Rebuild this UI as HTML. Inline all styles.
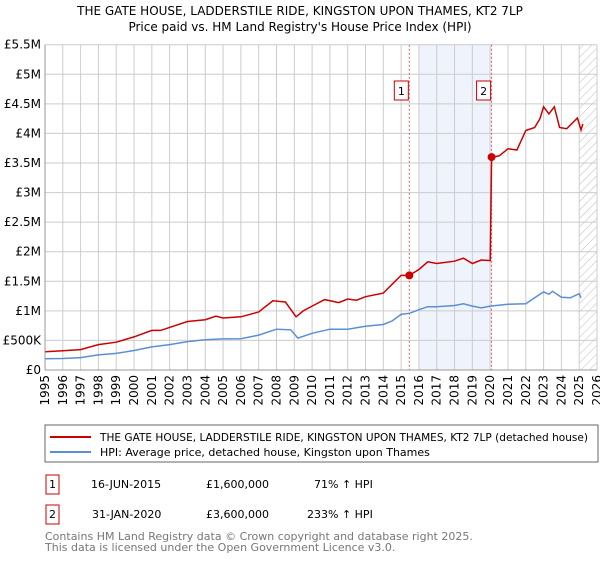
<!DOCTYPE html>
<html><head><meta charset="utf-8"><style>
body{margin:0;background:#fff;font-family:"DejaVu Sans","Liberation Sans",sans-serif;}
svg text{font-family:"DejaVu Sans","Liberation Sans",sans-serif;}
</style></head><body>
<svg id="c" width="600" height="560" xmlns="http://www.w3.org/2000/svg">
<defs><pattern id="hatch" width="6" height="6" patternUnits="userSpaceOnUse" patternTransform="rotate(45)"><line x1="0" y1="0" x2="0" y2="6" stroke="#bbb" stroke-width="1"/></pattern></defs>
<text x="300" y="15" text-anchor="middle" font-size="12">THE GATE HOUSE, LADDERSTILE RIDE, KINGSTON UPON THAMES, KT2 7LP</text>
<text x="300" y="31" text-anchor="middle" font-size="12">Price paid vs. HM Land Registry's House Price Index (HPI)</text>
<g id="grid"></g><g id="marks"></g><g id="axes"></g>
<rect x="45" y="425" width="553" height="37" fill="#fff" stroke="#666"/>
<line x1="50" y1="437" x2="91" y2="437" stroke="#cc0000" stroke-width="2"/>
<text x="100" y="441" font-size="11" textLength="488" lengthAdjust="spacingAndGlyphs">THE GATE HOUSE, LADDERSTILE RIDE, KINGSTON UPON THAMES, KT2 7LP (detached house)</text>
<line x1="50" y1="452" x2="91" y2="452" stroke="#5b8fd4" stroke-width="2"/>
<text x="100" y="456" font-size="11">HPI: Average price, detached house, Kingston upon Thames</text>
<g font-size="11">
<rect x="46" y="475" width="13" height="19" fill="#fff" stroke="#cc0000"/><text x="49" y="488">1</text>
<text x="91" y="488">16-JUN-2015</text><text x="206" y="488">£1,600,000</text><text x="314" y="488">71% ↑ HPI</text></g>
<g font-size="11">
<rect x="46" y="505" width="13" height="19" fill="#fff" stroke="#cc0000"/><text x="49" y="518">2</text>
<text x="92" y="518">31-JAN-2020</text><text x="206" y="518">£3,600,000</text><text x="307" y="518">233% ↑ HPI</text></g>
<text x="45" y="540" font-size="11" fill="#777">Contains HM Land Registry data © Crown copyright and database right 2025.</text>
<text x="45" y="551" font-size="11" fill="#777">This data is licensed under the Open Government Licence v3.0.</text>
</svg>
<script>
const yTicks=[0,500000,1000000,1500000,2000000,2500000,3000000,3500000,4000000,4500000,5000000,5500000];
const yTickLabels=["£0","£500K","£1M","£1.5M","£2M","£2.5M","£3M","£3.5M","£4M","£4.5M","£5M","£5.5M"];
const xYears=[1995,1996,1997,1998,1999,2000,2001,2002,2003,2004,2005,2006,2007,2008,2009,2010,2011,2012,2013,2014,2015,2016,2017,2018,2019,2020,2021,2022,2023,2024,2025,2026];
const hpiT=[1995,1996,1997,1998,1999,2000,2001,2002,2003,2004,2005,2006,2007,2008,2008.8,2009.2,2010,2011,2012,2013,2014,2014.5,2015,2015.5,2016,2016.5,2017,2018,2018.5,2019,2019.5,2020,2021,2022,2022.5,2023,2023.3,2023.5,2024,2024.5,2025,2025.1];
const hpiV=[190000,195000,210000,255000,280000,330000,390000,430000,480000,510000,525000,530000,590000,690000,680000,540000,620000,690000,690000,740000,770000,830000,940000,960000,1020000,1070000,1070000,1090000,1120000,1080000,1050000,1080000,1110000,1120000,1220000,1320000,1280000,1330000,1230000,1220000,1290000,1220000];
const redT=[1995,1996,1997,1998,1999,2000,2001,2001.5,2002,2003,2004,2004.6,2005,2006,2007,2007.8,2008.5,2009.1,2009.5,2010,2010.7,2011.5,2012,2012.5,2013,2014,2014.5,2015,2015.46,2016,2016.5,2017,2018,2018.5,2019,2019.5,2020,2020.08,2020.5,2021,2021.5,2022,2022.5,2022.8,2023,2023.3,2023.6,2023.9,2024.3,2024.9,2025.1,2025.2];
const redV=[310000,325000,345000,430000,470000,560000,670000,670000,720000,820000,850000,910000,880000,900000,980000,1170000,1150000,900000,1000000,1080000,1190000,1140000,1200000,1180000,1240000,1300000,1450000,1600000,1600000,1700000,1830000,1800000,1840000,1890000,1800000,1860000,1850000,3600000,3620000,3740000,3720000,4050000,4100000,4250000,4450000,4330000,4450000,4100000,4080000,4260000,4060000,4160000];
const saleT=[2015.46,2020.08];
const saleV=[1600000,3600000];
const saleLabels=["1","2"];
const X0=45,X1=597,Y0=370,Y1=44.7;
const xs=t=>X0+(t-1995)/(2026-1995)*(X1-X0);
const ys=v=>Y0-v/5500000*(Y0-Y1);
const NS="http://www.w3.org/2000/svg";
function mk(tag,attrs,parent,txt){const e=document.createElementNS(NS,tag);for(const k in attrs)e.setAttribute(k,attrs[k]);if(txt!==undefined)e.textContent=txt;document.getElementById(parent).appendChild(e);return e;}
let e;
e=mk('rect',{x:xs(2016),y:Y1,width:xs(2020.08)-xs(2016),height:Y0-Y1,fill:'#eef3fc'},'grid');

e=mk('rect',{x:xs(2025),y:Y1,width:X1-xs(2025),height:Y0-Y1,fill:'url(#hatch)'},'grid');

xYears.forEach(y=>{e=mk('line',{x1:xs(y),x2:xs(y),y1:Y1,y2:Y0,stroke:'#ccc'},'grid');

e=mk('text',{x:0,y:0,transform:`translate(${xs(y)+4},${Y0+5}) rotate(-90)`,'text-anchor':'end','font-size':12},'axes',String(y));
});
yTicks.forEach((v,i)=>{e=mk('line',{x1:X0,x2:X1,y1:ys(v),y2:ys(v),stroke:'#ccc'},'grid');

e=mk('text',{x:X0-4,y:ys(v)+4,'text-anchor':'end','font-size':12},'axes',yTickLabels[i]);
});
e=mk('line',{x1:X0,x2:X0,y1:Y1,y2:Y0,stroke:'#999'},'axes');
e=mk('line',{x1:X0,x2:X1,y1:Y0,y2:Y0,stroke:'#999'},'axes');
saleT.forEach((t,i)=>{e=mk('line',{x1:xs(t),x2:xs(t),y1:Y1,y2:Y0,stroke:'#e06060','stroke-dasharray':'2,2'},'marks');
});
e=mk('path',{d:hpiT.map((t,i)=>(i?'L':'M')+xs(t).toFixed(1)+','+ys(hpiV[i]).toFixed(1)).join(''),fill:'none',stroke:'#5b8fd4','stroke-width':1.5},'marks');

e=mk('path',{d:redT.map((t,i)=>(i?'L':'M')+xs(t).toFixed(1)+','+ys(redV[i]).toFixed(1)).join(''),fill:'none',stroke:'#cc0000','stroke-width':1.5},'marks');

saleT.forEach((t,i)=>{e=mk('circle',{cx:xs(t),cy:ys(saleV[i]),r:4,fill:'#cc0000'},'marks');

e=mk('rect',{x:xs(t)-15,y:81,width:14,height:19,fill:'#fff',stroke:'#cc0000'},'marks');

e=mk('text',{x:xs(t)-8,y:95,'text-anchor':'middle','font-size':11},'marks',saleLabels[i]);
});
</script>
</body></html>
